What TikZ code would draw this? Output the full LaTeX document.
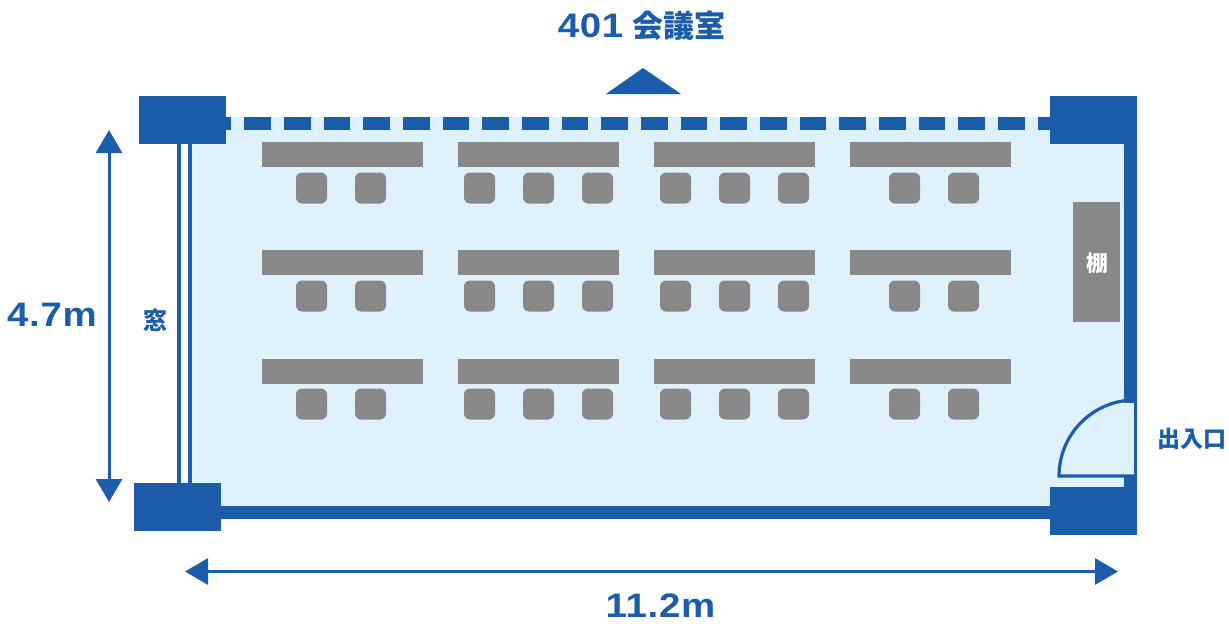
\documentclass[tikz,border=0pt]{standalone}
\usepackage{fontspec}
\setmainfont{Noto Sans CJK JP}
\newfontfamily\latinfont[FakeStretch=1.13,LetterSpace=2]{Liberation Sans}
\usetikzlibrary{arrows.meta}
\definecolor{wallblue}{HTML}{1B5DAB}
\definecolor{floorblue}{HTML}{DFF1FB}
\definecolor{furngray}{HTML}{888888}
\tikzset{
  pillar/.style={fill=wallblue},
  desk/.style={fill=furngray},
  chair/.style={fill=furngray,rounded corners=3pt},
  dimline/.style={draw=wallblue,line width=1.5pt,{Triangle[width=13pt,length=11.5pt]}-{Triangle[width=13pt,length=11.5pt]}},
  plantext/.style={text=wallblue,font=\bfseries,inner sep=0pt},
}
\begin{document}
\begin{tikzpicture}[x=0.5pt,y=-0.5pt]
\useasboundingbox (0,0) rectangle (1229,623);

\fill[floorblue] (192,116.5) rectangle (1124,506); %floor

\fill[wallblue] (221,506) rectangle (1050,519); %bottom wall
\fill[wallblue] (1123.5,144) rectangle (1137,487); %right wall
\fill[wallblue] (177,144) rectangle (181,483); %window
\fill[wallblue] (188,144) rectangle (192,483);
\draw[wallblue,line width=6.65pt,dash pattern=on 13.3pt off 6.53pt] (204.7,123.3) -- (1050,123.3); %front

\fill[pillar] (139,96) rectangle (226,144);
\fill[pillar] (1050,96) rectangle (1137,144);
\fill[pillar] (134,483) rectangle (221,531);
\fill[pillar] (1050,487) rectangle (1137,535);

\fill[wallblue] (606,94) -- (643,68) -- (681,94) -- cycle; %entrance mark

% desks
\foreach \rowy in {142,250,359}{
  \foreach \deskx in {262,458,654,850}
    \fill[desk] (\deskx,\rowy) rectangle ++(161,25);
}
% chairs
\foreach \rowy in {172.5,280.5,388.5}{
  \foreach \chairx in {296,355,464,523,582,660,719,778,889,948}
    \fill[chair] (\chairx,\rowy) rectangle ++(31,31);
}

\fill[desk] (1073,202) rectangle (1120,322); %shelf
\node[text=white,font=\bfseries\fontsize{11}{11}\selectfont,inner sep=0pt] (shelf) at (1097,263) {棚};

% door
\fill[floorblue] (1123,403) rectangle (1134.5,475);
\fill[wallblue] (1133.5,401) rectangle (1137,477);
\draw[wallblue,line width=1.6pt] (1135,476) -- (1059,476) arc[start angle=180,end angle=90,radius=38pt];

\coordinate (dimtop) at (109,130);
\coordinate (dimbottom) at (109,502);
\coordinate (dimleft) at (185,571.5);
\coordinate (dimright) at (1118,571.5);
\draw[dimline] (dimtop) -- (dimbottom);
\draw[dimline] (dimleft) -- (dimright);

\node[plantext,font=\bfseries\fontsize{15.5}{16}\selectfont] (roomname) at (641.5,26) {{\latinfont\fontsize{17}{17}\selectfont 401}\hspace{4.5pt}会議室};
\node[plantext,font=\latinfont\bfseries\fontsize{17}{18}\selectfont] (height) at (52,314.5) {4.7m};
\node[plantext,font=\latinfont\bfseries\fontsize{17}{18}\selectfont] (width) at (660.5,606) {11.2m};
\node[plantext,font=\bfseries\fontsize{12}{12}\selectfont] (window) at (155,320) {窓};
\node[plantext,font=\bfseries\fontsize{11.5}{12}\selectfont] (doorway) at (1191.5,439) {出入口};

\end{tikzpicture}
\end{document}
